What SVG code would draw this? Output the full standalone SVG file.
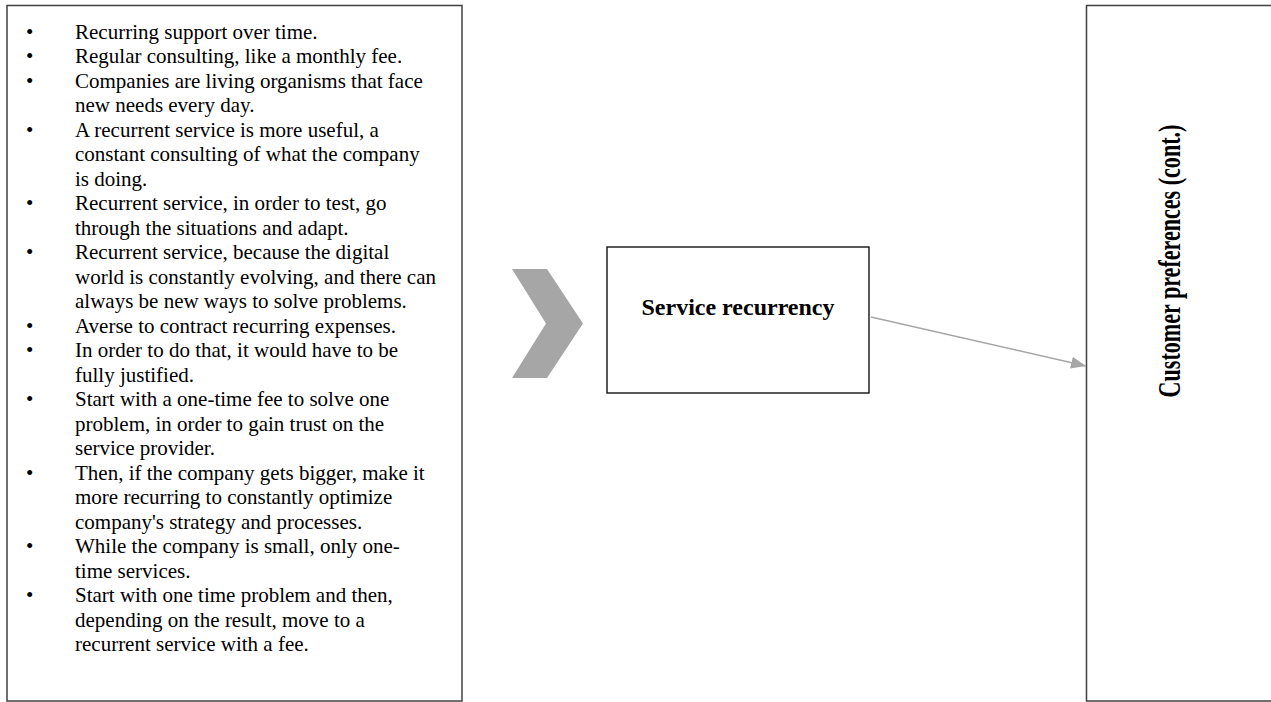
<svg xmlns="http://www.w3.org/2000/svg" width="1271" height="702" viewBox="0 0 1271 702">
<defs>
<style>
.box{fill:#ffffff;stroke:#404040;stroke-width:1.5}
.mid{fill:#ffffff;stroke:#000000;stroke-width:1.3}
.body{font-family:"Liberation Serif","Times New Roman",serif;font-size:21px;fill:#000000}
.bold{font-family:"Liberation Serif","Times New Roman",serif;font-weight:bold;fill:#000000}
.conn{stroke:#a6a6a6;stroke-width:1.5;fill:none}
</style>
<marker id="ah" markerUnits="userSpaceOnUse" markerWidth="16" markerHeight="12" refX="15" refY="6" orient="auto">
<path d="M0,0 L15,6 L0,12 Z" fill="#a6a6a6"/>
</marker>
</defs>
<rect width="1271" height="702" fill="#ffffff"/>
<g id="notes">
<rect class="box" x="7" y="5.5" width="455" height="695.5"/>
<g class="body">
<text x="26" y="38.5">•</text><text x="75" y="38.5">Recurring support over time.</text>
<text x="26" y="63">•</text><text x="75" y="63">Regular consulting, like a monthly fee.</text>
<text x="26" y="87.5">•</text><text x="75" y="87.5">Companies are living organisms that face</text>
<text x="75" y="112">new needs every day.</text>
<text x="26" y="136.5">•</text><text x="75" y="136.5">A recurrent service is more useful, a</text>
<text x="75" y="161">constant consulting of what the company</text>
<text x="75" y="185.5">is doing.</text>
<text x="26" y="210">•</text><text x="75" y="210">Recurrent service, in order to test, go</text>
<text x="75" y="234.5">through the situations and adapt.</text>
<text x="26" y="259">•</text><text x="75" y="259">Recurrent service, because the digital</text>
<text x="75" y="283.5">world is constantly evolving, and there can</text>
<text x="75" y="308">always be new ways to solve problems.</text>
<text x="26" y="332.5">•</text><text x="75" y="332.5">Averse to contract recurring expenses.</text>
<text x="26" y="357">•</text><text x="75" y="357">In order to do that, it would have to be</text>
<text x="75" y="381.5">fully justified.</text>
<text x="26" y="406">•</text><text x="75" y="406">Start with a one-time fee to solve one</text>
<text x="75" y="430.5">problem, in order to gain trust on the</text>
<text x="75" y="455">service provider.</text>
<text x="26" y="479.5">•</text><text x="75" y="479.5">Then, if the company gets bigger, make it</text>
<text x="75" y="504">more recurring to constantly optimize</text>
<text x="75" y="528.5">company's strategy and processes.</text>
<text x="26" y="553">•</text><text x="75" y="553">While the company is small, only one-</text>
<text x="75" y="577.5">time services.</text>
<text x="26" y="602">•</text><text x="75" y="602">Start with one time problem and then,</text>
<text x="75" y="626.5">depending on the result, move to a</text>
<text x="75" y="651">recurrent service with a fee.</text>
</g>
</g>
<g id="chevron">
<path d="M512,269 L547,269 L583,323.5 L547,378 L512,378 L546,323.5 Z" fill="#a6a6a6"/>
</g>
<g id="service-recurrency">
<rect class="mid" x="607" y="247" width="262" height="146"/>
<text class="bold" x="738" y="315" font-size="24" text-anchor="middle">Service recurrency</text>
</g>
<g id="customer-preferences">
<rect class="box" x="1086.5" y="5.5" width="200" height="695.5"/>
<text class="bold" font-size="32" text-anchor="middle" transform="translate(1180,261) rotate(-90) scale(0.69,1)">Customer preferences (cont.)</text>
</g>
<g id="connectors">
<line class="conn" x1="871" y1="317" x2="1086" y2="366" marker-end="url(#ah)"/>
</g>
</svg>
